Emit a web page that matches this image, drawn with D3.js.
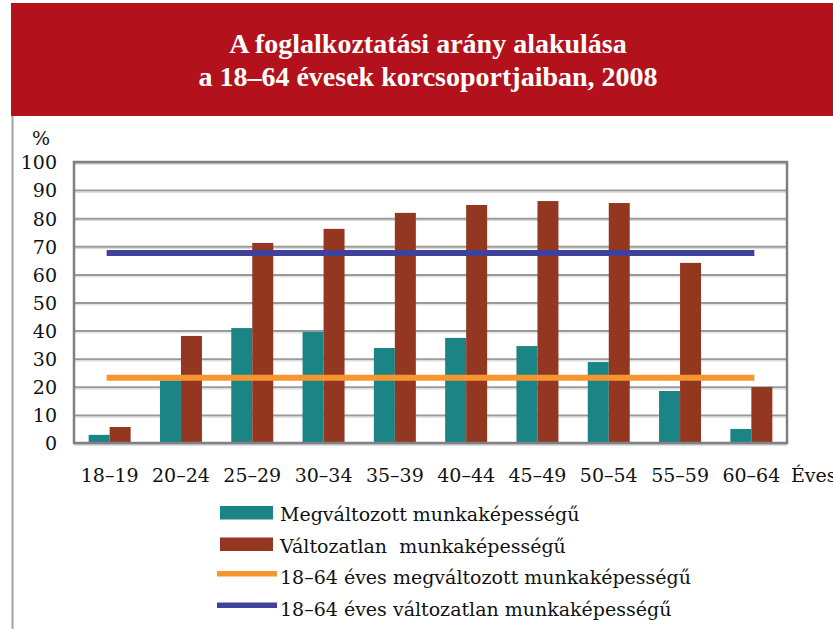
<!DOCTYPE html>
<html>
<head>
<meta charset="utf-8">
<script src="https://cdn.jsdelivr.net/npm/d3@7"></script>
<style>
body{margin:0;background:#fff;}
svg{display:block;}
</style>
</head>
<body>
<svg id="chart"></svg>
<script>
// age groups and the two series (percent)
const categories = ["18–19","20–24","25–29","30–34","35–39","40–44","45–49","50–54","55–59","60–64"];
const changed = [2.9, 22.3, 40.9, 39.5, 33.8, 37.4, 34.5, 28.8, 18.5, 5.0];
const unchanged = [5.7, 38.1, 71.2, 76.2, 81.9, 84.7, 86.1, 85.4, 64.1, 19.9];
const avgChanged = 23.2;
const avgUnchanged = 67.6;
const yTicks = [0,10,20,30,40,50,60,70,80,90,100];
const seriesNames = ["Megváltozott munkaképességű","Változatlan  munkaképességű"];
const lineNames = ["18–64 éves megváltozott munkaképességű","18–64 éves változatlan munkaképességű"];

const W = 833, H = 629;
const margin = {left:74, right:46, top:162, bottom:186};
const innerW = W - margin.left - margin.right;
const innerH = H - margin.top - margin.bottom;
const colors = {teal:"#1b8484", brown:"#943720", orange:"#f7962f", blue:"#3f419a"};
const serif = "'DejaVu Serif', serif";

const svg = d3.select("#chart").attr("width", W).attr("height", H);

// title banner
svg.append("rect").attr("x",11).attr("y",3).attr("width",W-11).attr("height",113).attr("fill","#b3111b");
svg.append("line").attr("x1",12.5).attr("x2",12.5).attr("y1",116).attr("y2",H)
    .attr("stroke","#a3a3a3").attr("stroke-width",2);
const title = svg.append("text").attr("text-anchor","middle").attr("fill","#fff")
    .attr("font-family","'Liberation Serif', serif").attr("font-weight","bold").attr("font-size",28);
title.append("tspan").attr("x",428).attr("y",53).text("A foglalkoztatási arány alakulása");
title.append("tspan").attr("x",428).attr("y",86).text("a 18–64 évesek korcsoportjaiban, 2008");

const g = svg.append("g").attr("transform",`translate(${margin.left},${margin.top})`);

const x0 = d3.scaleBand().domain(categories).range([0, innerW]).paddingInner(0.411).paddingOuter(0.2055);
const x1 = d3.scaleBand().domain([0,1]).range([0, x0.bandwidth()]);
const y = d3.scaleLinear().domain([0,100]).range([innerH, 0]);

// gridlines + y labels
const yAxis = d3.axisLeft(y).tickValues(yTicks).tickSize(-innerW).tickPadding(17).tickFormat(d3.format("d"));
const yg = g.append("g").call(yAxis);
yg.select(".domain").remove();
yg.selectAll(".tick line").attr("stroke","#9a9a9a").attr("stroke-width",2);
yg.selectAll(".tick").append("line").attr("x2",innerW).attr("y1",1.8).attr("y2",1.8)
    .attr("stroke","#d8d8dc").attr("stroke-width",1);
yg.selectAll(".tick text").attr("font-family",serif).attr("font-size",19).attr("fill","#111").attr("dy","0.36em");
svg.append("text").attr("x",41).attr("y",145).attr("text-anchor","middle")
    .attr("font-family",serif).attr("font-size",19).attr("fill","#111").text("%");

// bars
const groups = g.selectAll(".grp").data(categories).join("g")
    .attr("transform", d => `translate(${x0(d)},0)`);
groups.append("rect").attr("x",x1(0)).attr("width",x1.bandwidth())
    .attr("y",(d,i)=>y(changed[i])).attr("height",(d,i)=>innerH-y(changed[i])).attr("fill",colors.teal);
groups.append("rect").attr("x",x1(1)).attr("width",x1.bandwidth())
    .attr("y",(d,i)=>y(unchanged[i])).attr("height",(d,i)=>innerH-y(unchanged[i])).attr("fill",colors.brown);

// average lines
const xa = x0(categories[0]) + x0.bandwidth()/2;
const xb = x0(categories[categories.length-1]) + x0.bandwidth()/2;
[[avgChanged, colors.orange],[avgUnchanged, colors.blue]].forEach(([v,c]) => {
    g.append("line").attr("x1",xa).attr("x2",xb).attr("y1",y(v)).attr("y2",y(v))
        .attr("stroke",c).attr("stroke-width",6).attr("stroke-linecap","square");
});

// frame
g.append("rect").attr("x",0).attr("y",0).attr("width",innerW).attr("height",innerH)
    .attr("fill","none").attr("stroke","#808084").attr("stroke-width",2.5);

// x labels
const xAxis = d3.axisBottom(x0).tickSize(0).tickPadding(0);
const xg = g.append("g").attr("transform",`translate(0,${innerH})`).call(xAxis);
xg.select(".domain").remove();
xg.selectAll(".tick text").attr("y",39).attr("dy",0)
    .attr("font-family",serif).attr("font-size",19).attr("fill","#111");
svg.append("text").attr("x",791).attr("y",482).attr("font-family",serif).attr("font-size",19)
    .attr("fill","#111").text("Éves");

// legend
const leg = svg.append("g").attr("font-family",serif).attr("font-size",19).attr("fill","#111");
[colors.teal, colors.brown].forEach((c,i) => {
    const yy = 506 + i*31.5;
    leg.append("rect").attr("x",220).attr("y",yy).attr("width",53).attr("height",13.5).attr("fill",c);
    leg.append("text").attr("x",280).attr("y",yy+15).style("white-space","pre").text(seriesNames[i]);
});
[colors.orange, colors.blue].forEach((c,i) => {
    const yy = 573.7 + i*31.5;
    leg.append("line").attr("x1",217).attr("x2",277).attr("y1",yy).attr("y2",yy)
        .attr("stroke",c).attr("stroke-width",5.5);
    leg.append("text").attr("x",280).attr("y",yy+10.5).text(lineNames[i]);
});
</script>
</body>
</html>
